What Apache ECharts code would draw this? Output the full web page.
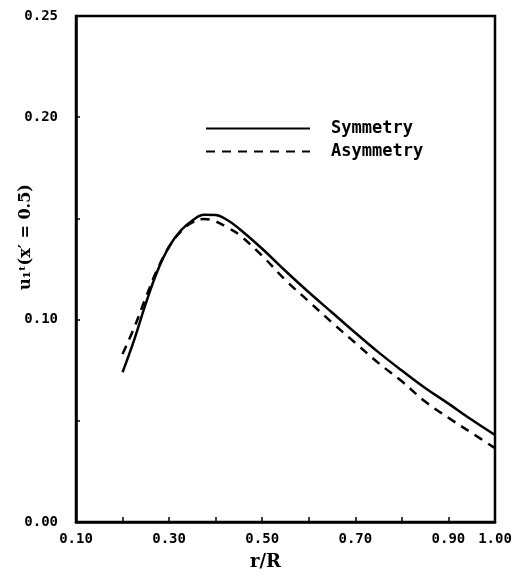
<!DOCTYPE html>
<html>
<head>
<meta charset="utf-8">
<script src="https://cdn.jsdelivr.net/npm/echarts@6/dist/echarts.min.js"></script>
<style>
  html, body { margin: 0; padding: 0; background: #fff; }
  #main { width: 529px; height: 577px; }
</style>
</head>
<body>
<div id="main"></div>
<script>
// r/R positions (x) shared by both curves
const rR = [0.20, 0.225, 0.25, 0.275, 0.30, 0.325, 0.35, 0.375, 0.40, 0.425, 0.45, 0.50, 0.55, 0.60, 0.65, 0.70, 0.75, 0.80, 0.85, 0.90, 0.95, 1.00];
const symmetry = [0.074, 0.090, 0.108, 0.124, 0.136, 0.144, 0.149, 0.1518, 0.1517, 0.1492, 0.145, 0.135, 0.124, 0.1135, 0.1035, 0.0935, 0.0838, 0.0748, 0.0662, 0.0585, 0.0505, 0.043];
const asymmetry = [0.083, 0.096, 0.111, 0.125, 0.136, 0.1435, 0.148, 0.1497, 0.1485, 0.1455, 0.142, 0.1315, 0.1195, 0.109, 0.0985, 0.0885, 0.0785, 0.0695, 0.0595, 0.0515, 0.044, 0.0365];
const xTickLabels = ['0.10', '0.30', '0.50', '0.70', '0.90', '1.00'];
const yTickLabels = ['0.00', '0.10', '0.20', '0.25'];

const pair = (xs, ys) => xs.map((x, i) => [x, ys[i]]);
const labelFont = { color: '#000', fontFamily: 'DejaVu Sans Mono', fontWeight: 'bold', fontSize: 14 };

const chart = echarts.init(document.getElementById('main'));
chart.setOption({
  animation: false,
  grid: { left: 76, right: 34, top: 16, bottom: 55, show: true, borderColor: '#000', borderWidth: 2.5 },
  legend: {
    orient: 'vertical',
    left: 200,
    top: 115,
    itemWidth: 104,
    itemHeight: 14,
    itemGap: 6,
    itemStyle: { opacity: 0 },
    textStyle: { color: '#000', fontFamily: 'DejaVu Sans Mono', fontWeight: 'bold', fontSize: 17, padding: [0, 0, 0, 16] },
    data: ['Symmetry', 'Asymmetry']
  },
  xAxis: {
    type: 'value', min: 0.1, max: 1.0, interval: 0.1,
    axisLine: { lineStyle: { color: '#000', width: 2.5 } },
    axisTick: { inside: true, length: 5, lineStyle: { color: '#000', width: 1.5 } },
    splitLine: { show: false },
    axisLabel: Object.assign({
      margin: 10, showMinLabel: true, showMaxLabel: true,
      formatter: v => {
        const s = v.toFixed(2);
        return xTickLabels.includes(s) ? s : '';
      }
    }, labelFont)
  },
  yAxis: {
    type: 'value', min: 0, max: 0.25, interval: 0.05,
    axisLine: { lineStyle: { color: '#000', width: 2.5 } },
    axisTick: { inside: true, length: 4, lineStyle: { color: '#000', width: 1.5 } },
    splitLine: { show: false },
    axisLabel: Object.assign({
      margin: 18, showMinLabel: true, showMaxLabel: true,
      formatter: v => {
        const s = v.toFixed(2);
        return yTickLabels.includes(s) ? s : '';
      }
    }, labelFont)
  },
  graphic: [
    {
      type: 'text', left: 250, top: 553,
      style: { text: 'r/R', fill: '#000', font: 'bold 18px "DejaVu Serif"' }
    },
    {
      type: 'text', x: 18, y: 290, rotation: Math.PI / 2,
      style: { text: 'u\u2081\u1d57(x\u2032 = 0.5)', fill: '#000', font: 'bold 16px "DejaVu Serif"' }
    }
  ],
  series: [
    {
      name: 'Symmetry', type: 'line', smooth: 0.4, symbol: 'none',
      lineStyle: { color: '#000', width: 2.5, type: 'solid' },
      itemStyle: { color: '#000' },
      data: pair(rR, symmetry)
    },
    {
      name: 'Asymmetry', type: 'line', smooth: 0.4, symbol: 'none',
      lineStyle: { color: '#000', width: 2.5, type: [9, 7] },
      itemStyle: { color: '#000' },
      data: pair(rR, asymmetry)
    }
  ]
});
</script>
</body>
</html>
